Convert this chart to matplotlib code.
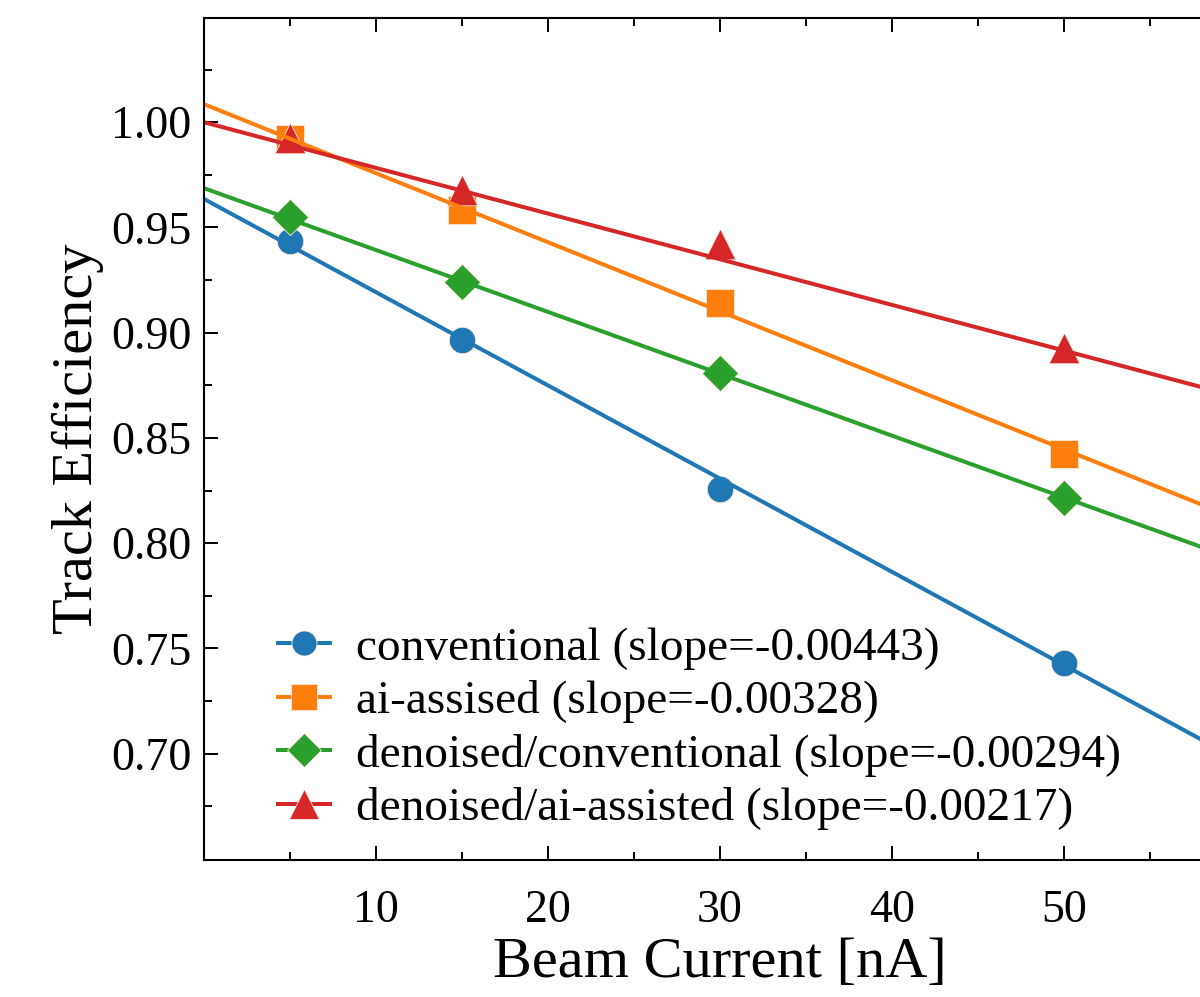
import numpy as np
import matplotlib
matplotlib.use("Agg")
import matplotlib.pyplot as plt
from matplotlib.lines import Line2D

plt.rcParams["font.family"] = ["Liberation Serif", "DejaVu Serif"]

# beam current [nA]
current = [5, 15, 30, 50]

conventional = [0.9437, 0.8965, 0.8257, 0.7432]
ai_assisted = [0.9919, 0.9583, 0.9139, 0.8426]
denoised_conv = [0.9549, 0.9242, 0.8808, 0.8216]
denoised_ai = [0.9924, 0.9678, 0.9423, 0.8927]

names = ["conventional", "ai-assised", "denoised/conventional", "denoised/ai-assisted"]

# linear fit parameters (slope shown in legend, intercept)
slopes = [-0.00443, -0.00328, -0.00294, -0.00217]
intercepts = [0.9636, 1.0086, 0.9687, 1.0000]

colors = ["#1f77b4", "#ff7f0e", "#2ca02c", "#d62728"]
markers = ["o", "s", "D", "^"]
msizes = [19, 19.5, 18.5, 22]

fig = plt.figure(figsize=(12, 9.97), dpi=100)
ax = fig.add_axes([0.17, 0.1374, 0.86, 0.8446])

x_fit = np.linspace(0, 60, 200)
handles = []
series = [conventional, ai_assisted, denoised_conv, denoised_ai]
for y, name, k, b, c, m, ms in zip(series, names, slopes, intercepts, colors, markers, msizes):
    ax.scatter(current, y, s=ms ** 2, marker=m, color=c, edgecolors="#fde8dc",
               linewidths=0.6, zorder=1)
    ax.plot(x_fit, k * x_fit + b, color=c, lw=2.9, zorder=2)
    handles.append(Line2D([], [], color=c, lw=2.9, marker=m, markersize=ms * 0.95,
                          markeredgecolor="#fde8dc", markeredgewidth=0.6,
                          label=f"{name} (slope={k:.5f})"))

ax.set_xlim(0.02, 60)
ax.set_ylim(0.6495, 1.0495)
ax.set_xticks([10, 20, 30, 40, 50])
ax.set_xticks(np.arange(5, 60, 5), minor=True)
ax.set_yticks([0.70, 0.75, 0.80, 0.85, 0.90, 0.95, 1.00])
ax.set_yticks(np.arange(0.675, 1.05, 0.025), minor=True)
ax.yaxis.set_major_formatter(matplotlib.ticker.FormatStrFormatter("%.2f"))

for s in ax.spines.values():
    s.set_linewidth(1.5)
ax.tick_params(which="both", direction="in", top=True, right=True, width=1.4)
ax.tick_params(which="major", length=10, labelsize=33)
ax.tick_params(axis="x", which="major", pad=21)
ax.tick_params(axis="y", which="major", pad=9)
ax.tick_params(which="minor", length=5.5)

ax.set_xlabel("Beam Current [nA]", fontsize=42, labelpad=4)
ax.set_ylabel("Track Efficiency", fontsize=42, labelpad=5)

ax.legend(handles=handles, loc="lower left", frameon=False, fontsize=34,
          handlelength=1.1, handletextpad=0.55, labelspacing=0.22,
          bbox_to_anchor=(0.031, -0.015))

fig.savefig("out.png", dpi=100)
